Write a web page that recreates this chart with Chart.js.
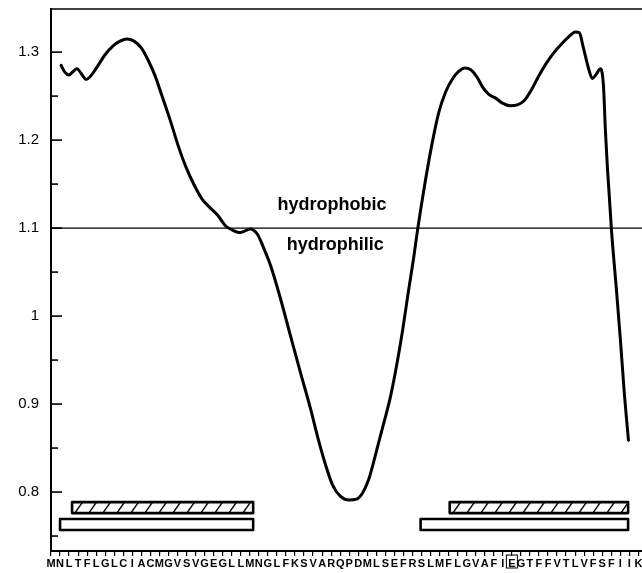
<!DOCTYPE html>
<html><head><meta charset="utf-8">
<script src="https://cdn.jsdelivr.net/npm/chart.js@4"></script>
<style>html,body{margin:0;padding:0;background:#fff}canvas{display:block}</style>
</head><body>
<canvas id="c" width="642" height="573"></canvas>
<script>
// ---- data ----
const residues = "MNLTFLGLCIACMGVSVGEGLLMNGLFKSVARQPDMLSEFRSLMFLGVAFIEGTFFVTLVFSFIIK".split('');
const residuePos = residues.map((_, i) => i + 1);
const boxedResidue = 52;

const curveX = [2.11,2.55,2.99,3.44,3.88,4.32,4.88,5.32,6.09,6.98,7.87,8.64,9.42,10.19,10.97,11.74,12.52,13.29,14.18,15.06,15.95,16.84,17.72,18.61,19.49,20.27,21.04,21.93,23.06,23.84,24.39,25.28,26.39,27.49,28.60,29.71,30.60,31.38,32.16,33.04,33.93,34.81,35.48,36.14,36.70,37.25,37.92,38.58,39.25,39.91,40.58,41.13,41.58,42.35,43.13,43.90,44.68,45.46,46.12,46.79,47.45,48.12,48.78,49.45,50.17,50.95,51.83,52.61,53.38,54.16,54.93,55.82,56.70,57.48,58.25,59.03,59.47,59.91,60.47,60.91,61.35,61.80,62.13,62.35,62.57,62.79,63.02,63.57,64.01,64.46,64.90];
const curveY = [1.285,1.277,1.274,1.278,1.281,1.276,1.269,1.272,1.283,1.297,1.307,1.3125,1.315,1.3125,1.305,1.291,1.273,1.250,1.223,1.194,1.169,1.149,1.133,1.123,1.114,1.103,1.098,1.095,1.099,1.093,1.081,1.058,1.020,0.978,0.936,0.895,0.859,0.831,0.808,0.795,0.791,0.792,0.799,0.814,0.834,0.856,0.882,0.909,0.944,0.984,1.030,1.066,1.099,1.149,1.194,1.231,1.255,1.270,1.278,1.282,1.280,1.272,1.260,1.252,1.248,1.242,1.239,1.240,1.245,1.257,1.272,1.2875,1.300,1.309,1.317,1.323,1.322,1.305,1.282,1.270,1.275,1.281,1.2625,1.211,1.169,1.135,1.098,1.030,0.973,0.910,0.859];

const threshold = 1.1;
const yMajor = [0.8, 0.9, 1.0, 1.1, 1.2, 1.3];
const yMajorLabels = ['0.8', '0.9', '1', '1.1', '1.2', '1.3'];
const yMinor = [0.75, 0.85, 0.95, 1.05, 1.15, 1.25];

// predicted segments (residue ranges) and their levels
const openBarStart = [2.0, 41.9];
const openBarEnd = [23.37, 64.86];
const openBarLevel = [0.7568, 0.7693];      // bottom, top
const hatchBarStart = [3.33, 45.12];
const hatchBarEnd = [23.37, 64.86];
const hatchBarLevel = [0.7761, 0.7886];     // bottom, top

const labels = [
  {text: 'hydrophobic', x: 32.1, y: 1.126},
  {text: 'hydrophilic', x: 32.45, y: 1.081}
];

// ---- pattern ----
function hatchPattern() {
  const c = document.createElement('canvas');
  c.width = 14; c.height = 20;
  const g = c.getContext('2d');
  g.strokeStyle = '#000'; g.lineWidth = 1.4;
  [-14, 0, 14].forEach(o => { g.beginPath(); g.moveTo(o, 20); g.lineTo(o + 14, 0); g.stroke(); });
  return g.createPattern(c, 'repeat');
}
const pattern = hatchPattern();

const datasets = [];
function addBar(a, b, lo, hi, fillStyle) {
  datasets.push({
    data: [{x: a, y: hi}, {x: b, y: hi}], order: 4,
    fill: {value: lo}, backgroundColor: fillStyle, borderWidth: 0, pointRadius: 0, tension: 0
  });
  datasets.push({
    data: [{x: a, y: hi}, {x: b, y: hi}, {x: b, y: lo}, {x: a, y: lo}, {x: a, y: hi}], order: 3,
    fill: false, borderColor: '#000', borderWidth: 2.6, pointRadius: 0, tension: 0,
    borderJoinStyle: 'round', borderCapStyle: 'round'
  });
}
openBarStart.forEach((a, i) => addBar(a, openBarEnd[i], openBarLevel[0], openBarLevel[1], '#fff'));
hatchBarStart.forEach((a, i) => addBar(a, hatchBarEnd[i], hatchBarLevel[0], hatchBarLevel[1], pattern));

const xMin = 1, xMax = 66.4;
datasets.push({
  data: [{x: xMin, y: threshold}, {x: xMax, y: threshold}], order: 2,
  borderColor: '#000', borderWidth: 1.4, pointRadius: 0, fill: false
});
datasets.push({
  data: curveX.map((x, i) => ({x, y: curveY[i]})), order: 1,
  borderColor: '#000', borderWidth: 3, pointRadius: 0, fill: false,
  cubicInterpolationMode: 'monotone', borderCapStyle: 'round', borderJoinStyle: 'round'
});

const extras = {
  id: 'extras',
  afterDraw(chart) {
    const {ctx, chartArea: ca, scales: {x, y}} = chart;
    ctx.save();
    ctx.strokeStyle = '#000';
    ctx.lineWidth = 1.6;
    ctx.beginPath(); ctx.moveTo(ca.left, ca.top); ctx.lineTo(ca.right, ca.top); ctx.stroke();
    yMajor.forEach(v => { const p = y.getPixelForValue(v); ctx.beginPath(); ctx.moveTo(ca.left, p); ctx.lineTo(ca.left + 11, p); ctx.stroke(); });
    yMinor.forEach(v => { const p = y.getPixelForValue(v); ctx.beginPath(); ctx.moveTo(ca.left, p); ctx.lineTo(ca.left + 7, p); ctx.stroke(); });
    ctx.fillStyle = '#000';
    ctx.font = 'bold 18px "Liberation Sans", Arial, sans-serif';
    ctx.textAlign = 'center'; ctx.textBaseline = 'middle';
    labels.forEach(l => ctx.fillText(l.text, x.getPixelForValue(l.x), y.getPixelForValue(l.y)));
    const bx = x.getPixelForValue(boxedResidue);
    ctx.lineWidth = 1;
    ctx.strokeRect(bx - 5.5, ca.bottom + 4, 11, 13);
    ctx.restore();
  }
};

new Chart(document.getElementById('c'), {
  type: 'line',
  data: {datasets},
  options: {
    responsive: false, animation: false, devicePixelRatio: 1,
    layout: {padding: {top: 9, right: 0, left: 0, bottom: 0}},
    plugins: {legend: {display: false}, tooltip: {enabled: false}},
    scales: {
      x: {
        type: 'linear', min: xMin, max: xMax,
        afterBuildTicks: s => { s.ticks = residuePos.map(v => ({value: v})); },
        afterFit: s => { s.height = 22; s.paddingLeft = 0; s.paddingRight = 0; },
        ticks: {
          autoSkip: false, maxRotation: 0, minRotation: 0, padding: 1, color: '#000',
          font: {family: '"Liberation Sans Narrow", "Liberation Sans", Arial, sans-serif', weight: 'bold', size: 11},
          callback: (v) => residues[Math.round(v) - 1]
        },
        grid: {display: true, drawOnChartArea: false, drawTicks: true, tickLength: 5, color: '#000', lineWidth: 1.2},
        border: {display: true, color: '#000', width: 2}
      },
      y: {
        type: 'linear', min: 0.733, max: 1.349,
        afterBuildTicks: s => { s.ticks = yMajor.map(v => ({value: v})); },
        afterFit: s => { s.width = 51; s.paddingTop = 0; s.paddingBottom = 0; },
        ticks: {
          padding: 12, color: '#000',
          font: {family: '"Liberation Sans", Arial, sans-serif', size: 15},
          callback: (v, i) => yMajorLabels[i]
        },
        grid: {display: true, drawOnChartArea: false, drawTicks: false},
        border: {display: true, color: '#000', width: 2}
      }
    }
  },
  plugins: [extras]
});
</script>
</body></html>
